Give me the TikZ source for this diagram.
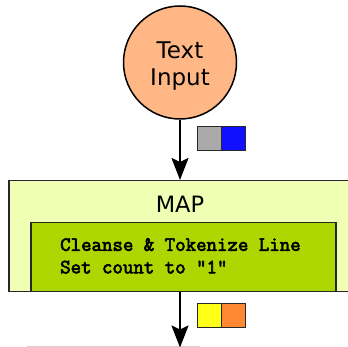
\documentclass[tikz,border=0pt]{standalone}
\usepackage{fontspec}
\setmainfont{DejaVu Sans}
\newfontfamily\codefont{Latin Modern Mono}[FakeBold=3]
\usetikzlibrary{arrows.meta,positioning}

\definecolor{inputfill}{RGB}{255,183,134}
\definecolor{mapfill}{RGB}{240,255,180}
\definecolor{taskfill}{RGB}{174,214,0}
\definecolor{keygray}{RGB}{170,170,170}
\definecolor{valblue}{RGB}{16,16,255}
\definecolor{keyyellow}{RGB}{255,255,24}
\definecolor{valorange}{RGB}{255,136,51}
\definecolor{edge}{RGB}{40,40,40}

\tikzset{
  flow/.style={line width=2pt, -{Stealth[length=22pt,width=17pt,inset=4pt]}},
  pairbox/.style={draw=edge, line width=1.2pt, minimum width=24pt, minimum height=24pt, inner sep=0pt, anchor=north west},
  stagebox/.style={draw=edge, line width=1.5pt, fill=mapfill, inner sep=0pt, anchor=north west},
  taskbox/.style={draw=edge, line width=1.5pt, fill=taskfill, inner sep=0pt, anchor=north west},
}

\begin{document}
\begin{tikzpicture}[x=1pt,y=-1pt]
  \useasboundingbox (0,0) rectangle (348,347);

  % source
  \node[circle, draw=black, line width=1.5pt, fill=inputfill, minimum size=113pt, inner sep=0pt] (input) at (180,62.5) {};
  \node[align=center, font=\fontsize{23}{27.5}\selectfont, inner sep=0pt] (inputlabel) at (180,66) {Text\\Input};

  % map stage and its task
  \node[stagebox, minimum width=344pt, minimum height=111pt] (map) at (8,180) {};
  \node[font=\fontsize{22.5}{26}\selectfont] (maplabel) at (180,204) {MAP};
  \node[taskbox, minimum width=305pt, minimum height=69pt] (task) at (30,222) {};
  \node[anchor=north west, inner sep=0pt, align=left,
        font=\codefont\fontsize{20.3}{22.5}\selectfont] (tasktext) at (60,238)
        {Cleanse \& Tokenize Line\\Set count to "1"};

  % key/value markers
  \node[pairbox, fill=keygray] (k1) at (197,126) {};
  \node[pairbox, fill=valblue] (v1) at (221,126) {};
  \node[pairbox, fill=keyyellow] (k2) at (197,303) {};
  \node[pairbox, fill=valorange] (v2) at (221,303) {};

  % top edge of the following stage
  \coordinate (nextL) at (27,346.3);
  \coordinate (nextR) at (200,346.3);
  \draw[gray!35, line width=1pt] (nextL) -- (nextR);

  % connectors
  \coordinate (down) at (180,347.5);
  \draw[flow] (input.south) -- (map.north -| input.south);
  \draw[flow] (task.south -| input.south) -- (down);
\end{tikzpicture}
\end{document}
